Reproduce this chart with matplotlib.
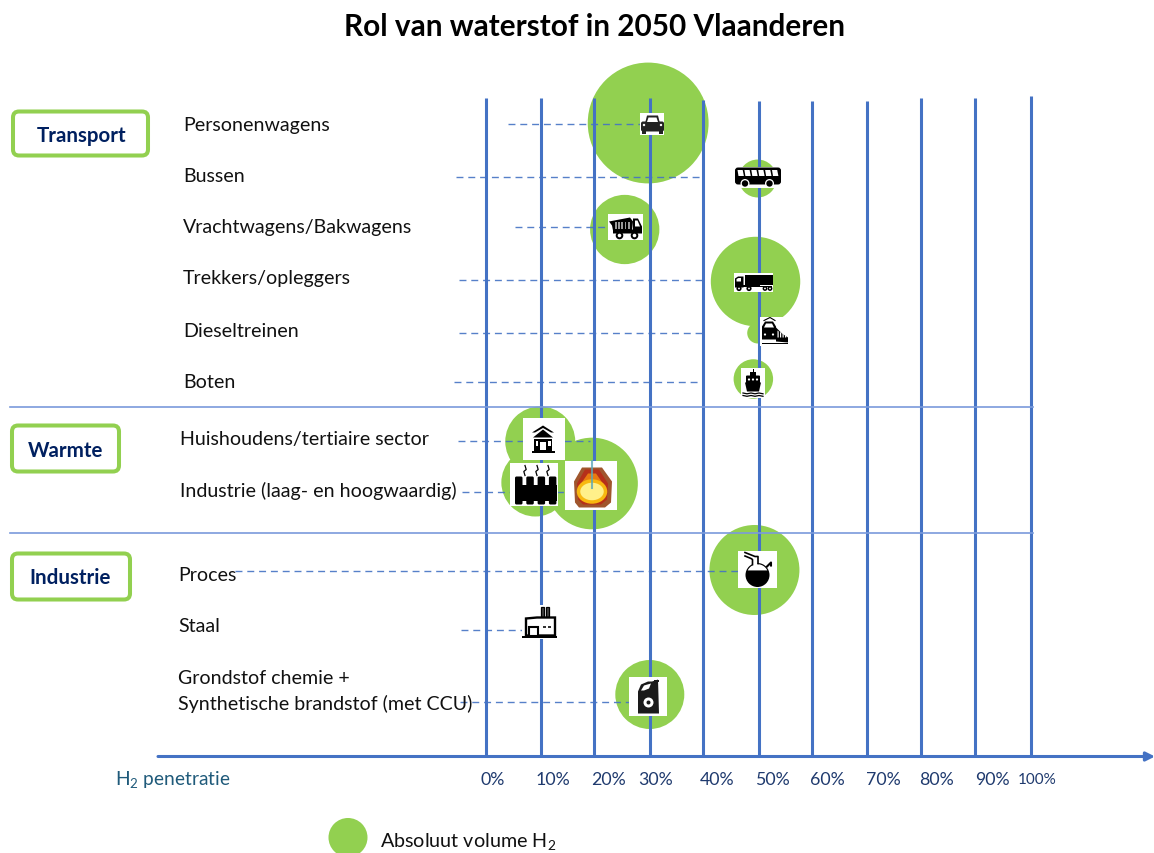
import matplotlib
matplotlib.use("Agg")
import numpy as np
import matplotlib.pyplot as plt
from matplotlib.patches import Rectangle, Polygon, Circle, Ellipse, FancyBboxPatch, FancyArrowPatch

plt.rcParams['font.family'] = ['Lato', 'DejaVu Sans']
plt.rcParams['mathtext.fontset'] = 'custom'
plt.rcParams['mathtext.rm'] = 'Lato'
plt.rcParams['mathtext.default'] = 'rm'

# ---------- data ----------
title = "Rol van waterstof in 2050 Vlaanderen"
sectors = ["Personenwagens", "Bussen", "Vrachtwagens/Bakwagens", "Trekkers/opleggers",
           "Dieseltreinen", "Boten", "Huishoudens/tertiaire sector",
           "Industrie (laag- en hoogwaardig)", "Proces", "Staal",
           "Grondstof chemie +\nSynthetische brandstof (met CCU)"]
groups = ["Transport", "Warmte", "Industrie"]
tick_labels = ["0%", "10%", "20%", "30%", "40%", "50%", "60%", "70%", "80%", "90%", "100%"]
grid_pct = [0, 10.1, 19.8, 30.1, 39.8, 50.1, 59.8, 69.9, 79.8, 89.7, 100]

bubble_names = ["Personenwagens", "Bussen", "Vrachtwagens", "Trekkers", "Dieseltreinen", "Boten",
                "Huishoudens", "Industrie laag", "Industrie hoog", "Proces", "Staal", "Grondstof"]
penetration = [29.7, 49.8, 25.4, 49.4, 49.8, 49.0, 9.9, 9.0, 19.4, 49.2, 10.0, 30.0]
volume = [3650, 360, 1200, 2000, 110, 390, 1225, 1156, 2100, 2025, 0, 1190]

# ---------- layout (pixels) ----------
W, H = 1154, 854
X0, PX = 486.3, 5.45
bubble_y = [123.5, 179, 230, 282, 333.5, 379.5, 442, 483, 484, 570.5, 630, 695]
grid_top = [98, 98, 98, 98, 100, 101, 101, 101, 98, 98, 96]
AXIS_Y = 757
BLUE = "#4472C4"
LBLUE = "#7A9ADB"
GREEN = "#92D050"
NAVY = "#002060"
TICKC = "#1F3A6E"
YS = 0.5  # vertical pixel alignment of both layers

fig = plt.figure(figsize=(W / 100, H / 100), dpi=100, facecolor="white")
ax = fig.add_axes([0, 0, 1, 1])
ax.set_xlim((0 - X0) / PX, (W - X0) / PX)
ax.set_ylim(H - YS, -YS)
ax.axis("off")

# overlay in pixel coordinates for labels and icons
ov = fig.add_axes([0, 0, 1, 1], facecolor="none")
ov.set_xlim(0, W)
ov.set_ylim(H - YS, -YS)
ov.axis("off")


def pct(px):
    return (px - X0) / PX


# bubbles
sizes = [v * 4 * 0.72 ** 2 for v in volume]
ax.scatter(penetration, bubble_y, s=sizes, color=GREEN, linewidths=0, zorder=1)

# vertical penetration lines
ax.vlines(grid_pct, grid_top, AXIS_Y, color=BLUE, lw=2.2, zorder=3)

# guide lines (dashed)
dashes = [(508, 640, 124.5), (456, 703, 177), (515, 608, 227), (459, 705, 280), (459, 705, 333),
          (454, 703, 382), (458, 590, 441.5), (462, 565, 492.5), (235, 740, 571.5),
          (461, 522, 630), (460, 640, 702)]
for a, b, y in dashes:
    ax.plot([pct(a), pct(b)], [y, y], color=BLUE, lw=1.0, ls=(0, (5, 3.5)), zorder=4, alpha=0.9)

# section separators
for y in (407, 533):
    ax.plot([pct(10), pct(1033)], [y, y], color=LBLUE, lw=1.2, zorder=4)

# x-axis arrow
ov.add_patch(FancyArrowPatch((158, AXIS_Y), (1155, AXIS_Y), arrowstyle="-|>", mutation_scale=13,
                             color=BLUE, lw=2.2, shrinkA=0, shrinkB=0, zorder=5))

# texts
ov.text(595, 26.5, title, fontsize=21.4, fontweight="bold", color="black", ha="center", va="center")

label_xy = [(183, 124.5), (183, 175.5), (183, 227.5), (183, 278.5), (183, 331.5), (183, 382.5),
            (180, 439.5), (180, 490.5), (178, 575.5), (178, 626.5), (178, 691)]
for name, (x, y) in zip(sectors, label_xy):
    ov.text(x, y, name, fontsize=14.1, color="#111111", ha="left", va="center", linespacing=1.55, zorder=5)

boxes = [(13, 112, 135, 44), (12, 426, 107, 46), (12, 554, 118, 46)]
for g, (x, y, w, h), cy, tx in zip(groups, boxes, (135.5, 450.5, 577.5), (82, 65.5, 70)):
    ov.add_patch(FancyBboxPatch((x + 5, y + 5), w - 10, h - 10, boxstyle="round,pad=5,rounding_size=6",
                                fc="white", ec=GREEN, lw=2.9))
    ov.text(tx, cy, g, fontsize=14.8, fontweight="bold", color=NAVY, ha="center", va="center")

tick_x = [493, 553, 608, 656, 717, 772, 827, 883, 936, 992, 1037]
for t, x in zip(tick_labels, tick_x):
    ov.text(x, 779.5, t, fontsize=12.8 if t != "100%" else 11, color=TICKC, ha="center", va="center")
ov.text(115, 779.5, r"H$_2$ penetratie", fontsize=13.8, color="#1F5A7A", ha="left", va="center")

ov.add_patch(Circle((348, 838), 19.5, fc=GREEN, ec="none"))
ov.text(380, 841.5, r"Absoluut volume H$_2$", fontsize=14.2, color="#111111", ha="left", va="center")


# ---------- icons ----------
def box(x0, y0, x1, y1, c="white", z=6):
    ov.add_patch(Rectangle((x0, y0), x1 - x0, y1 - y0, fc=c, ec="none", zorder=z))


def rnd(x0, y0, x1, y1, r=1.5, c="black", z=7):
    ov.add_patch(FancyBboxPatch((x0 + r, y0 + r), x1 - x0 - 2 * r, y1 - y0 - 2 * r,
                                boxstyle=f"round,pad={r},rounding_size={r}", fc=c, ec="none", zorder=z))


def poly(pts, c="black", z=7):
    ov.add_patch(Polygon(pts, closed=True, fc=c, ec="none", zorder=z))


def circ(x, y, r, c="black", z=7):
    ov.add_patch(Circle((x, y), r, fc=c, ec="none", zorder=z))


# car
box(640, 113, 664, 135)
poly([(645, 124), (647, 116), (658, 116), (660, 124)], "#222222")
poly([(647, 122.5), (648.5, 118), (656.5, 118), (658, 122.5)], "white", 8)
rnd(641, 122, 664, 132, 2, "#222222")
box(642, 131, 646, 134, "#222222", 7)
box(659, 131, 663, 134, "#222222", 7)
circ(644, 125.5, 1.2, "white", 8)
circ(661, 125.5, 1.2, "white", 8)

# bus
box(734, 167, 781, 188)
rnd(735, 168, 781, 185, 3)
for i in range(6):
    x = 737.5 + i * 6.9
    poly([(x, 170.5), (x + 5.2, 170.5), (x + 6.4, 176.5), (x + 1.0, 176.5)], "white", 8)
for x in (745, 769.5):
    circ(x, 184, 4.5, "white", 8)
    circ(x, 184, 3.2, "black", 9)

# dump truck
box(608, 214, 643, 240)
poly([(609, 222), (630, 218), (633, 222), (632, 231), (613, 231), (612, 226)])
for i in range(5):
    box(615 + i * 3.2, 222, 616.8 + i * 3.2, 229, "#9a9a9a", 8)
poly([(633, 219), (638, 219), (642, 227), (642, 234), (613, 234), (613, 230), (633, 230)])
poly([(635, 221), (637.5, 221), (640, 227), (635, 227)], "white", 8)
for x in (619.5, 634.5):
    circ(x, 236, 3.8, "black", 8)
    circ(x, 236, 1.8, "white", 9)

# tractor-trailer
box(734, 273, 773, 292)
box(745, 275, 772.5, 285, "black", 7)
poly([(735, 279), (738, 277), (743.5, 277), (743.5, 288), (735, 288)])
poly([(736.5, 279.5), (738.5, 278.5), (741, 278.5), (741, 282), (736.5, 282)], "white", 8)
box(743, 285.5, 760, 287, "black", 7)
box(760, 286, 772, 287.5, "black", 7)
for x, r in ((739, 2.6), (749, 2.6), (765, 2.4), (770, 2.4)):
    circ(x, 289, r, "black", 8)
    circ(x, 289, 0.9, "white", 9)

# train
box(760, 317, 789, 346)
poly([(762, 327), (765, 322), (773, 322), (776, 327), (777, 340), (762, 340)])
poly([(764, 328), (766, 324), (772, 324), (774, 328)], "white", 8)
poly([(776, 328), (782, 334), (788, 338), (788, 343), (776, 342)])
for i in range(4):
    poly([(777.5 + i * 2.5, 331 + i * 1.4), (778.7 + i * 2.5, 332 + i * 1.4),
          (778.7 + i * 2.5, 338), (777.5 + i * 2.5, 338)], "white", 8)
circ(765, 335, 1.1, "white", 8)
circ(773, 335, 1.1, "white", 8)
box(762, 343, 788, 344.5, "black", 7)
ov.plot([764, 770, 775], [321, 318, 321], color="black", lw=0.8, zorder=7)

# ship
box(741, 368, 765, 398)
poly([(745, 383), (761, 383), (759, 392), (747, 392)])
rnd(746, 376, 760, 384, 1)
box(750, 372, 756, 377, "black", 7)
box(752.5, 369, 753.5, 373, "black", 7)
for x in (749, 753, 757):
    circ(x, 380, 1.1, "white", 8)
for y in (393.5, 396):
    ov.plot([743, 747, 751, 755, 759, 763], [y, y + .8, y, y + .8, y, y + .8], color="black", lw=0.9, zorder=7)

# house
box(523, 418, 565, 460)
poly([(532, 433), (543, 426), (554, 433), (551, 433), (543, 428.5), (535, 433)])
poly([(533, 438), (543, 430), (553, 438)])
box(534, 439, 552, 452, "black", 7)
box(532, 451.5, 555, 453, "black", 7)
box(540, 442, 546, 450, "white", 8)
box(535.5, 441, 538, 446, "white", 8)
box(548, 441, 550.5, 446, "white", 8)

# radiator / heat
box(510, 463, 558, 506)
box(515, 485, 557, 501, "black", 7)
for i in range(4):
    rnd(515 + i * 11.3, 477, 522.5 + i * 11.3, 505, 1.5)
for x in (525, 537, 548):
    ov.plot([x, x + 1.2, x - 1.2, x], [466, 470, 472, 476], color="black", lw=0.9, zorder=7)

# furnace
box(565, 461, 617, 510)
poly([(582, 468), (602, 468), (612, 482), (611, 503), (605, 508), (579, 508), (575, 503), (574, 482)], "#A0562D")
poly([(585, 470), (599, 470), (608, 484), (607, 500), (601, 505), (583, 505), (578, 500), (577, 484)], "#B5301A", 8)
poly([(588, 474), (596, 474), (605, 487), (579, 487)], "#E87A10", 8)
ov.add_patch(Ellipse((592, 492), 27, 21, fc="#FFF08A", ec="#F8B810", lw=2.5, zorder=9))
ov.plot([592, 592], [461, 488], color="#5BA7B8", lw=1.5, zorder=10, alpha=0.8)

# flask
box(738, 551, 777, 588)
circ(757.5, 575.5, 12.0, "black", 7)
theta = np.linspace(np.radians(205), np.radians(335), 30)
poly(np.column_stack([757.5 + 10.8 * np.cos(theta), 575.5 + 10.8 * np.sin(theta)]), "white", 8)
poly([(745, 553), (756, 557), (758, 566), (753, 566), (752, 559), (745, 556)], "white", 9)
ov.plot([745, 755, 758, 758], [553, 557, 557, 564], color="black", lw=1.2, zorder=10)
ov.plot([745, 751, 752.5, 752.5], [556.5, 559, 560, 565], color="black", lw=1.2, zorder=10)
ov.plot([767, 771, 771], [567, 563, 566], color="black", lw=1.5, zorder=10)

# steel plant
box(522, 605, 557, 639)
ov.add_patch(Rectangle((541, 607), 3, 11, fc="#444444", ec="black", lw=0.9, zorder=7))
ov.add_patch(Rectangle((546, 607), 3, 11, fc="#444444", ec="black", lw=0.9, zorder=7))
ov.add_patch(Polygon([(526, 636), (526, 619), (537, 618), (555, 618), (555, 636)], closed=True,
                     fc="white", ec="black", lw=1.7, zorder=7))
ov.add_patch(Rectangle((529, 627), 9, 9, fc="white", ec="black", lw=1.5, zorder=8))
box(543, 626, 546, 628, "#333333", 8)
box(548, 626, 551, 628, "#333333", 8)
box(522, 636, 557, 638, "black", 9)

# canister
box(629, 677, 667, 716)
poly([(638, 692), (641, 685), (648, 682), (652, 682), (658, 680), (659, 714), (638, 714)], "#1a1a1a")
poly([(641, 691), (644, 686), (651, 684), (649, 689), (644, 691)], "white", 8)
box(654, 680, 658.5, 682, "#1a1a1a", 8)
circ(648.5, 703, 5, "white", 8)
circ(648.5, 703, 2, "#1a1a1a", 9)

fig.savefig("out.png", dpi=100, facecolor="white")
